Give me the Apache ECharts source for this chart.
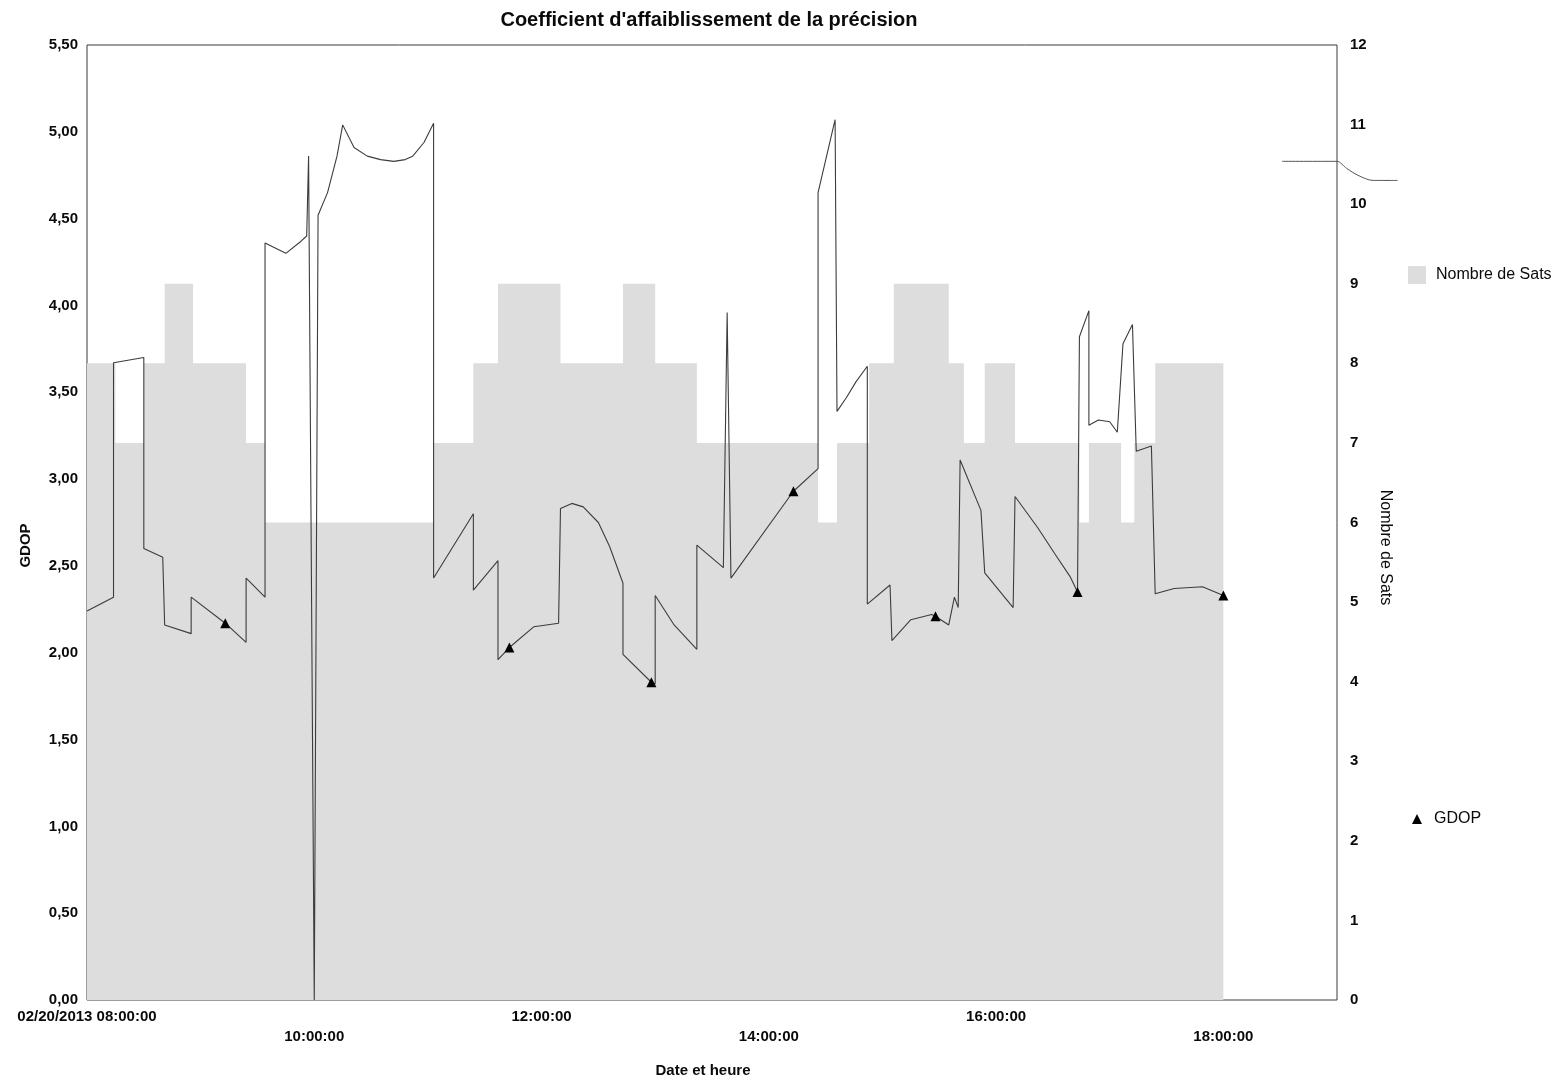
<!DOCTYPE html>
<html>
<head>
<meta charset="utf-8">
<script src="https://cdn.jsdelivr.net/npm/echarts@6/dist/echarts.min.js"></script>
<style>
html,body{margin:0;padding:0;background:#fff;}
#chart{width:1563px;height:1087px;}
</style>
</head>
<body>
<div id="chart"></div>
<script>
// ---- data (times on 02/20/2013) ----
const satTimes  = ['08:00','08:15','08:30','08:41','08:56','09:24','09:34','11:03','11:24','11:37','12:10','12:43','13:00','13:22','14:26','14:36','14:53','15:06','15:35','15:43','15:54','16:10','16:44','16:49','17:06','17:13','17:24','18:00'];
const satValues = [8,7,8,9,8,7,6,7,8,9,8,9,8,7,6,7,8,9,8,7,8,7,6,7,6,7,8,8];

const gdopTimes = ['08:00','08:14','08:14','08:30','08:30','08:40','08:41','08:55','08:55','09:13','09:24','09:24','09:34','09:34','09:45','09:53','09:56','09:57','10:00','10:02','10:07','10:12','10:15','10:21','10:28','10:35','10:42','10:48','10:52','10:58','11:03','11:03','11:24','11:24','11:37','11:37','11:43','11:56','12:09','12:10','12:16','12:22','12:30','12:36','12:43','12:43','12:58','13:00','13:00','13:10','13:22','13:22','13:36','13:38','13:40','14:13','14:26','14:26','14:35','14:36','14:41','14:46','14:52','14:52','15:04','15:05','15:15','15:26','15:28','15:35','15:38','15:40','15:41','15:52','15:54','16:09','16:10','16:22','16:31','16:39','16:43','16:44','16:44','16:49','16:49','16:54','17:00','17:04','17:07','17:12','17:14','17:22','17:24','17:34','17:49','18:00'];
const gdopValues = [2.24,2.32,3.67,3.70,2.60,2.55,2.16,2.11,2.32,2.17,2.06,2.43,2.32,4.36,4.30,4.37,4.40,4.86,0,4.52,4.65,4.86,5.04,4.91,4.86,4.84,4.83,4.84,4.86,4.94,5.05,2.43,2.80,2.36,2.53,1.96,2.03,2.15,2.17,2.83,2.86,2.84,2.75,2.61,2.40,1.99,1.83,1.82,2.33,2.16,2.02,2.62,2.49,3.96,2.43,2.93,3.06,4.65,5.07,3.39,3.47,3.56,3.65,2.28,2.39,2.07,2.19,2.22,2.21,2.16,2.32,2.26,3.11,2.82,2.46,2.26,2.90,2.72,2.57,2.44,2.35,2.35,3.82,3.97,3.31,3.34,3.33,3.27,3.78,3.89,3.16,3.19,2.34,2.37,2.38,2.33];
const gdopMarkers = ['09:13','11:43','12:58','14:13','15:28','16:43','18:00'];

// stray trace at the right edge of the scan (continues past the frame)
const strayTimes  = ['18:31','19:00','19:05','19:11','19:19','19:32'];
const strayValues = [4.83,4.83,4.79,4.75,4.72,4.72];

const xTickLabels = ['02/20/2013 08:00:00','10:00:00','12:00:00','14:00:00','16:00:00','18:00:00'];
const title = "Coefficient d'affaiblissement de la précision";

// ---- helpers ----
function hrs(s){const p=s.split(':');return +p[0]+(+p[1])/60+(p[2]?(+p[2])/3600:0);}

const satData = satTimes.map((t,i)=>[hrs(t),satValues[i]]);
const gdopData = gdopTimes.map((t,i)=>{
  const item={value:[hrs(t),gdopValues[i]]};
  if(gdopMarkers.indexOf(t)>=0){item.symbol='triangle';item.symbolSize=10;}
  return item;
});
const strayData = strayTimes.map((t,i)=>[hrs(t),strayValues[i]]);

const FONT = 'Liberation Sans, Arial, sans-serif';
const TXT = '#0a0a0a';
// plot frame: 08:00 -> 19:00 over 1250 px; the stray trace grid uses the same scale, extended
const X_MIN = 8, X_MAX = 19, X_MAX_EXT = 19.6;
const PLOT_W = 1250, PLOT_L = 87;
const extRight = 1563 - (PLOT_L + PLOT_W * (X_MAX_EXT - X_MIN) / (X_MAX - X_MIN));

const chart = echarts.init(document.getElementById('chart'));
chart.setOption({
  animation:false,
  backgroundColor:'#fff',
  textStyle:{fontFamily:FONT},
  title:{
    text:title, left:704, top:5, textAlign:'center',
    textStyle:{fontFamily:FONT,fontSize:20,fontWeight:'bold',color:TXT}
  },
  legend:[
    {data:[{name:'Nombre de Sats',icon:'rect'}], left:1408, top:266, padding:0, orient:'vertical',
     itemWidth:18,itemHeight:18,
     textStyle:{fontFamily:FONT,fontSize:16,color:TXT,padding:[0,0,0,5]}},
    {data:[{name:'GDOP',icon:'triangle'}], left:1412, top:811, padding:0, orient:'vertical',
     itemWidth:10,itemHeight:10,
     textStyle:{fontFamily:FONT,fontSize:16,color:TXT,padding:[0,0,0,7]}}
  ],
  grid:[
    {left:PLOT_L,right:1563-PLOT_L-PLOT_W,top:45,bottom:87,show:true,borderColor:'#3a3a3a',borderWidth:1,backgroundColor:'transparent'},
    {left:PLOT_L,right:extRight,top:45,bottom:87,show:false}
  ],
  xAxis:[{
    type:'value',min:X_MIN,max:X_MAX,interval:2,
    name:'Date et heure',nameLocation:'middle',nameGap:63,
    nameTextStyle:{fontFamily:FONT,fontSize:15,fontWeight:'bold',color:TXT,padding:[0,18,0,0]},
    axisLine:{show:false},axisTick:{show:false},splitLine:{show:false},
    axisLabel:{
      margin:7,fontFamily:FONT,fontSize:15,fontWeight:'bold',color:TXT,lineHeight:20,
      showMaxLabel:false,
      formatter:function(v){
        const idx=Math.round((v-8)/2);
        if(Math.abs(v-8-idx*2)>1e-6||idx<0||idx>=xTickLabels.length) return '';
        return (idx%2===1?'\n':'')+xTickLabels[idx];
      }
    }
  },{
    type:'value',gridIndex:1,min:X_MIN,max:X_MAX_EXT,show:false
  }],
  yAxis:[
    {type:'value',min:0,max:5.5,interval:0.5,
     name:'GDOP',nameLocation:'middle',nameGap:54,
     nameTextStyle:{fontFamily:FONT,fontSize:15,fontWeight:'bold',color:TXT,padding:[0,46,0,0]},
     axisLine:{show:false},axisTick:{show:false},splitLine:{show:false},
     axisLabel:{margin:9,fontFamily:FONT,fontSize:15,fontWeight:'bold',color:TXT,
       formatter:function(v){return v.toFixed(2).replace('.',',');}}},
    {type:'value',min:0,max:12,interval:1,position:'right',
     name:'Nombre de Sats',nameLocation:'middle',nameGap:40,nameRotate:-90,
     nameTextStyle:{fontFamily:FONT,fontSize:16,color:TXT,padding:[0,0,0,50]},
     axisLine:{show:false},axisTick:{show:false},splitLine:{show:false},
     axisLabel:{margin:13,fontFamily:FONT,fontSize:15,fontWeight:'bold',color:TXT}},
    {type:'value',gridIndex:1,min:0,max:5.5,show:false}
  ],
  series:[
    {name:'Nombre de Sats',type:'line',xAxisIndex:0,yAxisIndex:1,step:'end',data:satData,
     symbol:'none',lineStyle:{width:0,color:'#dddddd'},
     itemStyle:{color:'#dddddd'},
     areaStyle:{color:'#dddddd',opacity:1},z:1},
    {name:'GDOP',type:'line',xAxisIndex:0,yAxisIndex:0,data:gdopData,
     symbol:'none',showSymbol:true,showAllSymbol:true,
     lineStyle:{width:1.1,color:'#3c3c3c'},itemStyle:{color:'#000'},z:3},
    {name:'stray',type:'line',xAxisIndex:1,yAxisIndex:2,data:strayData,smooth:0.3,
     symbol:'none',lineStyle:{width:1,color:'#555'},silent:true,z:3}
  ]
});
</script>
</body>
</html>
